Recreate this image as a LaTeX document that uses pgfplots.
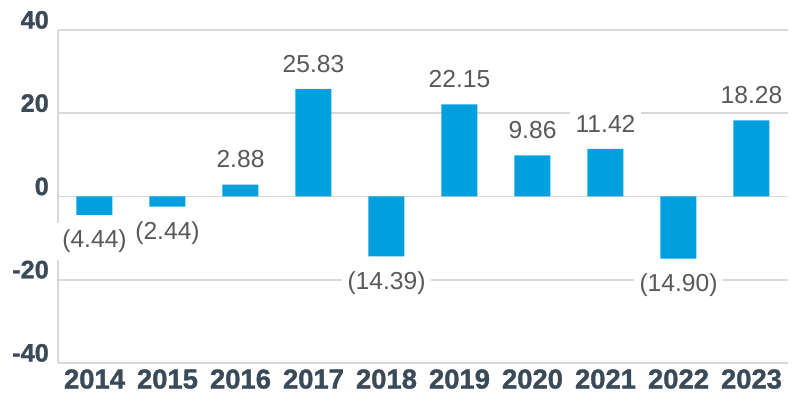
\documentclass[border=0pt]{standalone}
\usepackage{pgfplots}
\pgfplotsset{compat=1.18}
\usepackage{fontspec}
\setmainfont{Liberation Sans}
\newfontfamily\heavyfont[FakeBold=1.2]{Liberation Sans Bold}
\definecolor{barblue}{HTML}{00A0DE}
\definecolor{gridgray}{HTML}{D9D9D9}
\definecolor{ticklbl}{HTML}{3B4A59}
\definecolor{lblgray}{HTML}{595959}
\begin{document}
\begin{tikzpicture}
\path[use as bounding box] (-1.45cm,-0.925cm) rectangle (18.55cm,9.075cm);
\begin{axis}[at={(0,0)}, anchor=south west, scale only axis,
  width=18.25cm, height=8.325cm,
  xmin=-0.5, xmax=9.5, ymin=-40, ymax=40,
  xtick={0,1,2,3,4,5,6,7,8,9},
  xticklabels={2014,2015,2016,2017,2018,2019,2020,2021,2022,2023},
  ytick={-40,-20,0,20,40}, yticklabels={-40,-20,0,20,40},
  ymajorgrids, grid style={gridgray, line width=1.3pt},
  axis x line*=bottom, axis y line*=left,
  axis line style={gridgray, line width=1.3pt, -},
  major tick length=0pt,
  xticklabel style={text=ticklbl, font=\fontsize{19.5}{24}\heavyfont, yshift=-1pt},
  yticklabel style={text=ticklbl, font=\fontsize{18}{21}\heavyfont, anchor=base east, xshift=-3pt, yshift=1pt},
  clip=false,
  ybar, bar width=0.9cm,
  nodes near coords, point meta=explicit symbolic,
  every node near coord/.style={font=\fontsize{17.5}{21}\selectfont, text=lblgray, fill=white, inner xsep=4pt, inner ysep=5pt},
]
\addplot[fill=barblue, draw=none, bar shift=0pt,
  nodes near coords style={anchor=south, yshift=6.4pt}]
  table[meta=l] {
x y l
2 2.88 2.88
3 25.83 25.83
5 22.15 22.15
6 9.86 9.86
7 11.42 11.42
9 18.28 18.28
};
\addplot[fill=barblue, draw=none, bar shift=0pt,
  nodes near coords style={anchor=north, yshift=-5.5pt}]
  table[meta=l] {
x y l
0 -4.44 (4.44)
1 -2.44 (2.44)
4 -14.39 (14.39)
8 -14.90 (14.90)
};
\end{axis}
\end{tikzpicture}
\end{document}
